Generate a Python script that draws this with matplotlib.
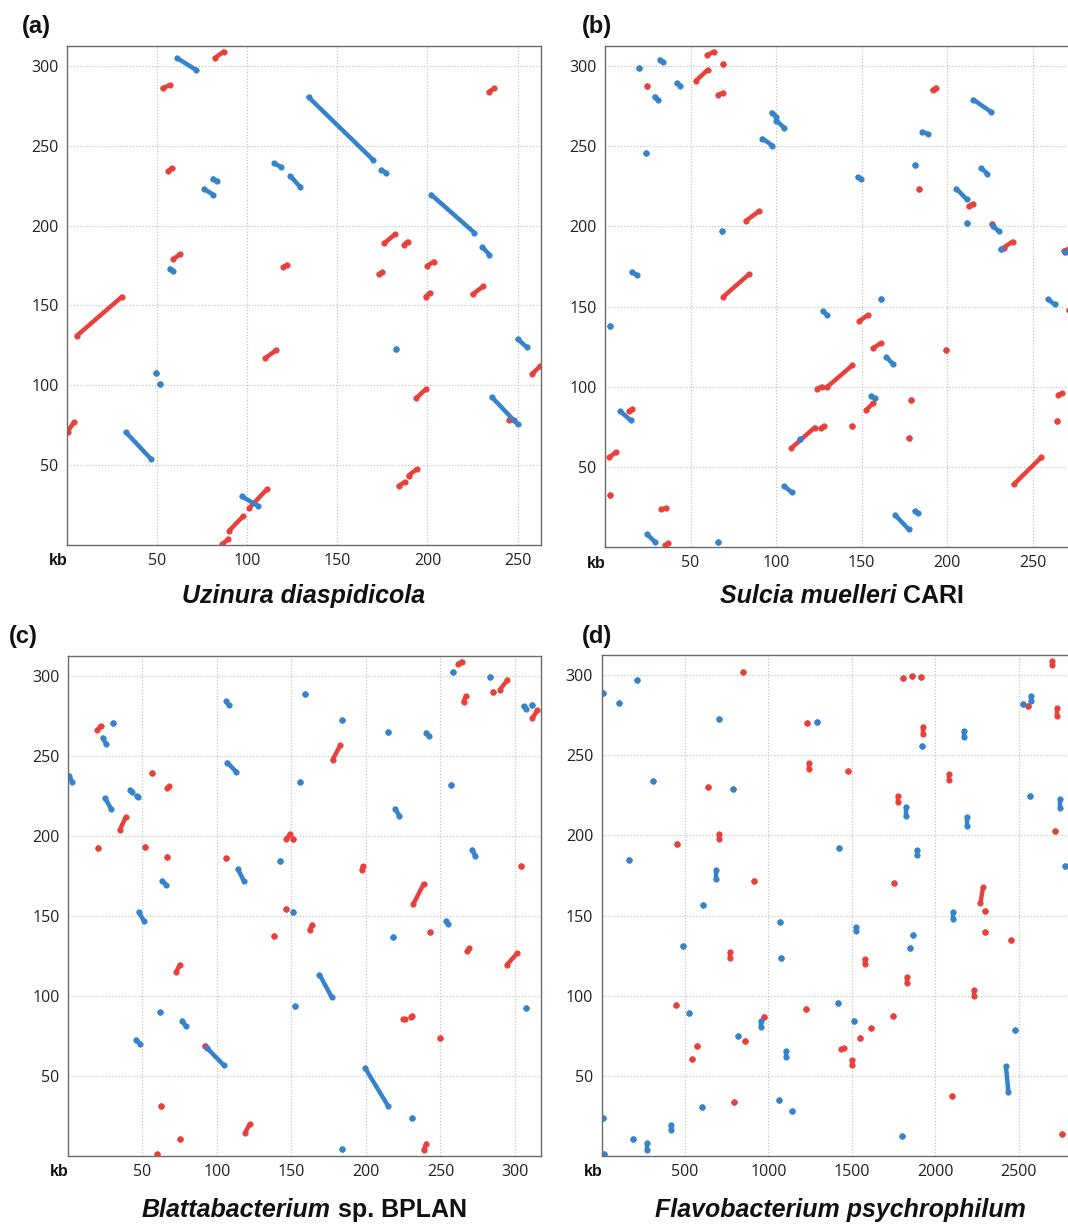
import matplotlib
matplotlib.use("Agg")
import matplotlib.pyplot as plt

# ---------------- data: alignment segments (x0, y0, x1, y1) in kb ----------------
# (a) Uzinura diaspidicola vs reference
UZI_FWD = [
    (5.4, 131, 30.5, 155.5), (0.3, 71, 4, 77), (86, 0.5, 89.6, 3.7), (90, 9, 97.7, 18),
    (101, 23, 111, 35), (110, 117, 116, 122), (120, 174, 122, 175.5), (184, 37, 187.5, 39.5),
    (189.5, 43.5, 194, 47.5), (193.8, 92, 199, 97.5), (199, 155.6, 201.5, 158), (200, 175, 203.5, 177.5),
    (225, 157, 231, 162), (176, 189, 182, 194.6), (187, 188, 189, 190), (173, 169.5, 175, 171),
    (234, 283.7, 237, 286), (258, 107, 262.5, 112), (245, 78, 248, 78.5), (59, 179, 62.5, 182),
    (56, 234, 58, 236), (53, 286, 57, 288), (82, 305, 87, 309),
]
UZI_REV = [
    (134, 280.5, 170, 241), (174.5, 235, 177, 233), (202, 219.5, 226, 195.6), (230.5, 186.6, 234.4, 181.7),
    (235.7, 92.7, 250, 75.6), (250, 129, 255, 124), (182.6, 123, 182.6, 123), (115, 239, 119, 236.6),
    (124, 231, 129.5, 224), (76, 223, 81, 219.5), (81, 229.5, 83, 228), (61, 305, 71.6, 297.5),
    (57, 173, 59, 171.5), (49.4, 107.8, 49.4, 107.8), (51.7, 101, 51.7, 101), (32.6, 70.7, 46.5, 54),
    (97, 30.5, 106, 24.4),
]

# (b) Sulcia muelleri CARI vs reference
SUL_FWD = [
    (238.8, 39, 255, 56), (108.8, 61.6, 122.5, 74.5), (126, 74, 128, 75.5), (124, 98.8, 126.7, 100),
    (130, 100, 144.6, 113.4), (148.6, 140.8, 153.6, 144.7), (156.6, 124, 161, 127), (152.6, 85.3, 156.6, 89.7),
    (179, 92, 179, 92), (177.5, 67.7, 177.5, 67.7), (144.6, 75.5, 144.6, 75.5), (199, 122.7, 199, 122.7),
    (69, 156, 84, 170), (82.3, 203.4, 89.8, 209.3), (53, 290.7, 60, 297.6), (59.6, 306.6, 63.5, 309),
    (69, 301, 69, 301), (66, 282, 69, 283.4), (24.7, 287.5, 24.7, 287.5), (191.4, 285, 193.4, 286.6),
    (183.5, 223.5, 183.5, 223.5), (212.5, 212.5, 215.3, 214.2), (226.3, 201.5, 226.3, 201.5),
    (233, 186.8, 238.2, 190.5), (268, 184.8, 270.7, 185.6), (271, 147.7, 271, 147.7), (265, 95, 267, 95.8),
    (264, 78.7, 264, 78.7), (3.2, 32.3, 3.2, 32.3), (2.6, 56, 6.2, 59), (14, 84.6, 16, 86),
    (33, 23.5, 35.5, 24.2), (35, 1, 37, 2.2),
]
SUL_REV = [
    (20, 299, 20, 299), (32, 304, 34, 302.6), (29, 281, 31, 279), (42, 289.5, 44, 287.8),
    (24, 245.5, 24, 245.5), (15.7, 171.6, 18.5, 169.7), (3.2, 138, 3.2, 138), (9, 84.6, 15, 79),
    (68.5, 197, 68.5, 197), (97.4, 271, 100.2, 268.5), (100.2, 266, 104.8, 261.4), (92, 254.8, 97.8, 250.4),
    (147.6, 230.8, 149.6, 229.6), (127.3, 147, 129.7, 144.7), (161, 155, 161, 155), (164.5, 118.3, 168.5, 114),
    (155.6, 94.4, 157.6, 92.7), (114, 67.5, 114, 67.5), (104.8, 38, 109.2, 34), (169.5, 20, 177.5, 11),
    (181, 22.5, 183, 21), (66, 3.4, 66, 3.4), (24.7, 7.8, 29, 3.4), (215.3, 279, 225.3, 271.6),
    (185.5, 259, 188.5, 257.7), (181, 238, 181, 238), (220, 236.4, 223.3, 232.8), (205.4, 223.5, 211.3, 216.9),
    (211.7, 202, 211.7, 202), (227, 200, 230, 197), (231.3, 185.6, 231.3, 185.6), (258.8, 154.5, 262.7, 151.3),
    (268.7, 184.3, 268.7, 184.3),
]

# (c) Blattabacterium sp. BPLAN vs reference
BLA_FWD = [
    (19.6, 266, 21.9, 268.8), (20, 192.7, 20, 192.7), (34.7, 203.7, 38.7, 211.7), (56.4, 239.5, 56.4, 239.5),
    (51.7, 193.4, 51.7, 193.4), (66.7, 229.8, 68, 231), (66.7, 186.6, 66.7, 186.6), (72.7, 115, 75, 119.5),
    (62.2, 31.2, 62.2, 31.2), (59.7, 1.2, 59.7, 1.2), (75, 10.5, 75, 10.5), (118.9, 14.6, 122, 20),
    (91.8, 68.8, 91.8, 68.8), (105.8, 186, 105.8, 186), (138.5, 137.8, 138.5, 137.8), (146, 154.4, 146, 154.4),
    (146.6, 198, 149, 201.2), (151.3, 198, 151.3, 198), (162.2, 141.5, 164, 144.6), (177.6, 247.6, 182.7, 256.6),
    (197.2, 179, 197.9, 181), (231.7, 157.3, 238.7, 170), (242.9, 140.2, 242.9, 140.2), (225, 85.4, 226.5, 85.6),
    (230, 87, 231.2, 87.8), (249.9, 73.7, 249.9, 73.7), (238.7, 3.7, 240.6, 7.8), (267.8, 128, 269.5, 129.8),
    (294.6, 119.5, 301.6, 126.8), (304, 181, 304, 181), (285.3, 290, 285.3, 290), (290, 291.5, 295, 297.6),
    (265.5, 284, 267, 287.3), (262, 307.3, 264.3, 309), (311.7, 273.7, 315.1, 278.5),
]
BLA_REV = [
    (0.5, 237.8, 2.8, 234), (23.3, 261.5, 25.4, 257.8), (30, 270.7, 30, 270.7), (24.9, 223.7, 28.9, 217),
    (41.7, 228.8, 43, 227.5), (46, 225, 47, 224.4), (47.6, 152.4, 51, 146.8), (63.4, 172, 65.7, 169.5),
    (45.9, 72.7, 48.2, 70), (61.5, 89.8, 61.5, 89.8), (76.7, 84.6, 79, 81), (93, 67.8, 104.7, 56.6),
    (106.3, 284.1, 108.2, 281.7), (107, 245.9, 112.8, 240.2), (114, 179.3, 118, 172), (142, 184.6, 142, 184.6),
    (159.4, 289, 159.4, 289), (156, 233.7, 156, 233.7), (151.3, 152.4, 151.3, 152.4), (152.4, 94, 152.4, 94),
    (168.8, 113.4, 176.9, 99.5), (199.5, 54.9, 214.9, 31.2), (184, 272.4, 184, 272.4), (184, 4.4, 184, 4.4),
    (215, 265, 215, 265), (219.6, 217, 222.4, 212.7), (218.4, 137, 218.4, 137), (240.6, 264.6, 242.2, 262.2),
    (231.2, 23.9, 231.2, 23.9), (256.9, 231.7, 256.9, 231.7), (258.5, 302.4, 258.5, 302.4),
    (253.8, 147, 255, 145), (271.3, 191.5, 273.2, 187.8), (283.4, 299.3, 283.4, 299.3),
    (305.8, 281, 307.5, 279.3), (311.4, 281.7, 311.4, 281.7), (307.5, 92.2, 307.5, 92.2),
]

# (d) Flavobacterium psychrophilum vs reference
FLA_FWD = [
    (845, 301.7, 845, 301.7), (1804, 298, 1804, 298), (1861, 299.3, 1861, 299.3), (1912, 298.8, 1912, 298.8),
    (1926, 263.5, 1926, 267.5), (1231, 270, 1231, 270), (1243, 241.5, 1243, 245), (1476, 240, 1476, 240),
    (2082, 234.5, 2082, 238), (1779, 221, 1779, 224.5), (638, 230.3, 638, 230.3), (706, 198, 706, 201),
    (454, 194.6, 454, 194.6), (916, 171.6, 916, 171.6), (1753, 170.4, 1753, 170.4), (2270, 157.5, 2286, 167.5),
    (2300, 152.6, 2300, 152.6), (2300, 139.6, 2300, 139.6), (2454, 135, 2454, 135), (767, 123.5, 767, 127.5),
    (1581, 119.5, 1581, 123), (1832, 108, 1832, 111.5), (2233, 100, 2233, 103.5), (446, 93.9, 446, 93.9),
    (971, 86.6, 971, 86.6), (1223, 92, 1223, 92), (1744, 87.3, 1744, 87.3), (1616, 80, 1616, 80),
    (1550, 73.6, 1550, 73.6), (1435, 66.5, 1455, 67.5), (1503, 57, 1503, 60), (573, 68.5, 573, 68.5),
    (542, 60.4, 542, 60.4), (859, 71.9, 859, 71.9), (791, 33.5, 791, 33.5), (2102, 37.7, 2102, 37.7),
    (2699, 306, 2699, 308.5), (2556, 280.4, 2556, 280.4), (2730, 274.5, 2730, 279.5), (2720, 202.7, 2720, 202.7),
    (2760, 13.7, 2760, 13.7),
]
FLA_REV = [
    (10, 289, 10, 289), (106, 282.6, 106, 282.6), (211, 296.8, 211, 296.8), (307, 234, 307, 234),
    (706, 272.4, 706, 272.4), (787, 228.8, 787, 228.8), (1292, 271, 1292, 271), (164, 184.4, 164, 184.4),
    (689, 173, 689, 178.5), (609, 156.7, 609, 156.7), (491, 131, 491, 131), (1421, 192.2, 1421, 192.2),
    (1070, 146, 1070, 146), (1074, 123.2, 1074, 123.2), (1524, 140.5, 1524, 143), (1867, 137.9, 1867, 137.9),
    (1851, 129.8, 1851, 129.8), (1826, 212, 1826, 217.5), (1922, 256, 1922, 256), (1888, 187.5, 1888, 191),
    (2172, 261.5, 2172, 265), (2192, 206, 2192, 211.5), (2106, 148, 2106, 152.5), (526, 89, 526, 89),
    (818, 75, 818, 75), (955, 80.5, 955, 84), (1104, 62, 1104, 65.5), (1417, 95.6, 1417, 95.6),
    (1513, 84.1, 1513, 84.1), (1063, 35.2, 1063, 35.2), (1141, 27.9, 1141, 27.9), (603, 30.8, 603, 30.8),
    (419, 16.5, 419, 19.5), (190, 10.3, 190, 10.3), (270, 4, 270, 8), (6, 23.7, 6, 23.7), (14, 1, 14, 1),
    (1800, 12.5, 1800, 12.5), (2423, 56, 2438, 40), (2479, 78.7, 2479, 78.7), (2573, 284, 2573, 287),
    (2526, 282, 2526, 282), (2566, 224.7, 2566, 224.7), (2750, 217, 2750, 222.5), (2777, 181.2, 2777, 181.2),
]

X_TICKS_A = [50, 100, 150, 200, 250]
X_TICKS_B = [50, 100, 150, 200, 250]
X_TICKS_C = [50, 100, 150, 200, 250, 300]
X_TICKS_D = [500, 1000, 1500, 2000, 2500]
Y_TICKS = [50, 100, 150, 200, 250, 300]
X_MAX = [263, 277, 317.5, 2861]
Y_MAX = 312.5
PANEL_LABELS = ["(a)", "(b)", "(c)", "(d)"]
TITLES = [
    [("Uzinura diaspidicola", True)],
    [("Sulcia muelleri", True), ("CARI", False)],
    [("Blattabacterium", True), ("sp. BPLAN", False)],
    [("Flavobacterium psychrophilum", True)],
]

RED = "#e8413c"
BLUE = "#3483cb"

W, H = 1068, 1225
fig = plt.figure(figsize=(W / 100, H / 100), dpi=100)
fig.patch.set_facecolor("white")

# axes boxes in pixels: left, top, right, bottom
boxes = [
    (67, 46, 541, 545),
    (605, 46, 1079, 547),
    (68, 656, 541, 1156),
    (601.5, 655, 1079, 1156),
]
xticks_all = [X_TICKS_A, X_TICKS_B, X_TICKS_C, X_TICKS_D]
fwd_all = [UZI_FWD, SUL_FWD, BLA_FWD, FLA_FWD]
rev_all = [UZI_REV, SUL_REV, BLA_REV, FLA_REV]
title_y = [596, 596, 1210, 1210]
label_pos = [(22, 26), (582, 26), (9, 637), (582, 636)]

fam = ["Open Sans", "DejaVu Sans"]
tfam = ["Liberation Sans", "DejaVu Sans"]

for i, (l, t, r, b) in enumerate(boxes):
    ax = fig.add_axes([l / W, 1 - b / H, (r - l) / W, (b - t) / H])
    ax.set_xlim(0, X_MAX[i])
    ax.set_ylim(0, Y_MAX)
    ax.set_xticks(xticks_all[i])
    ax.set_yticks(Y_TICKS)
    ax.grid(True, color="#c4c4c4", linestyle=(0, (1, 1.5)), linewidth=0.9)
    ax.set_axisbelow(True)
    ax.tick_params(length=0, labelsize=11.5, labelcolor="#222222", pad=6)
    for lab in ax.get_xticklabels() + ax.get_yticklabels():
        lab.set_family(fam)
    for s in ax.spines.values():
        s.set_color("#6a6a6a")
        s.set_linewidth(1.0)
    for segs, col in ((fwd_all[i], RED), (rev_all[i], BLUE)):
        for (x0, y0, x1, y1) in segs:
            ax.plot([x0, x1], [y0, y1], color=col, lw=3.2, solid_capstyle="round",
                    marker="o", ms=3.9, mec=col, mfc=col, mew=0.5, clip_on=True)
    # kb label
    fig.text((l - 18) / W, 1 - (b + 16) / H, "kb", fontsize=11.5, fontweight="bold",
             family=tfam, ha="left", va="center", color="#111111")
    # panel label
    fig.text(label_pos[i][0] / W, 1 - label_pos[i][1] / H, PANEL_LABELS[i], fontsize=17,
             fontweight="bold", family=["Liberation Sans", "DejaVu Sans"], ha="left",
             va="center", color="#111111")

# titles with mixed italic / upright parts, centred on each axes
fig.canvas.draw()
renderer = fig.canvas.get_renderer()
for i, (l, t, r, b) in enumerate(boxes):
    cx = (l + r) / 2
    parts = TITLES[i]
    texts = []
    widths = []
    gap = 7
    for (s, ital) in parts:
        tx = fig.text(0, 1 - title_y[i] / H, s, fontsize=18, fontweight="bold",
                      style="italic" if ital else "normal", family=tfam,
                      ha="left", va="center", color="#111111")
        bb = tx.get_window_extent(renderer)
        texts.append(tx)
        widths.append(bb.width)
    total = sum(widths) + gap * (len(parts) - 1)
    x = cx - total / 2
    for tx, w in zip(texts, widths):
        tx.set_x(x / W)
        x += w + gap

fig.savefig("out.png", dpi=100, facecolor="white")
